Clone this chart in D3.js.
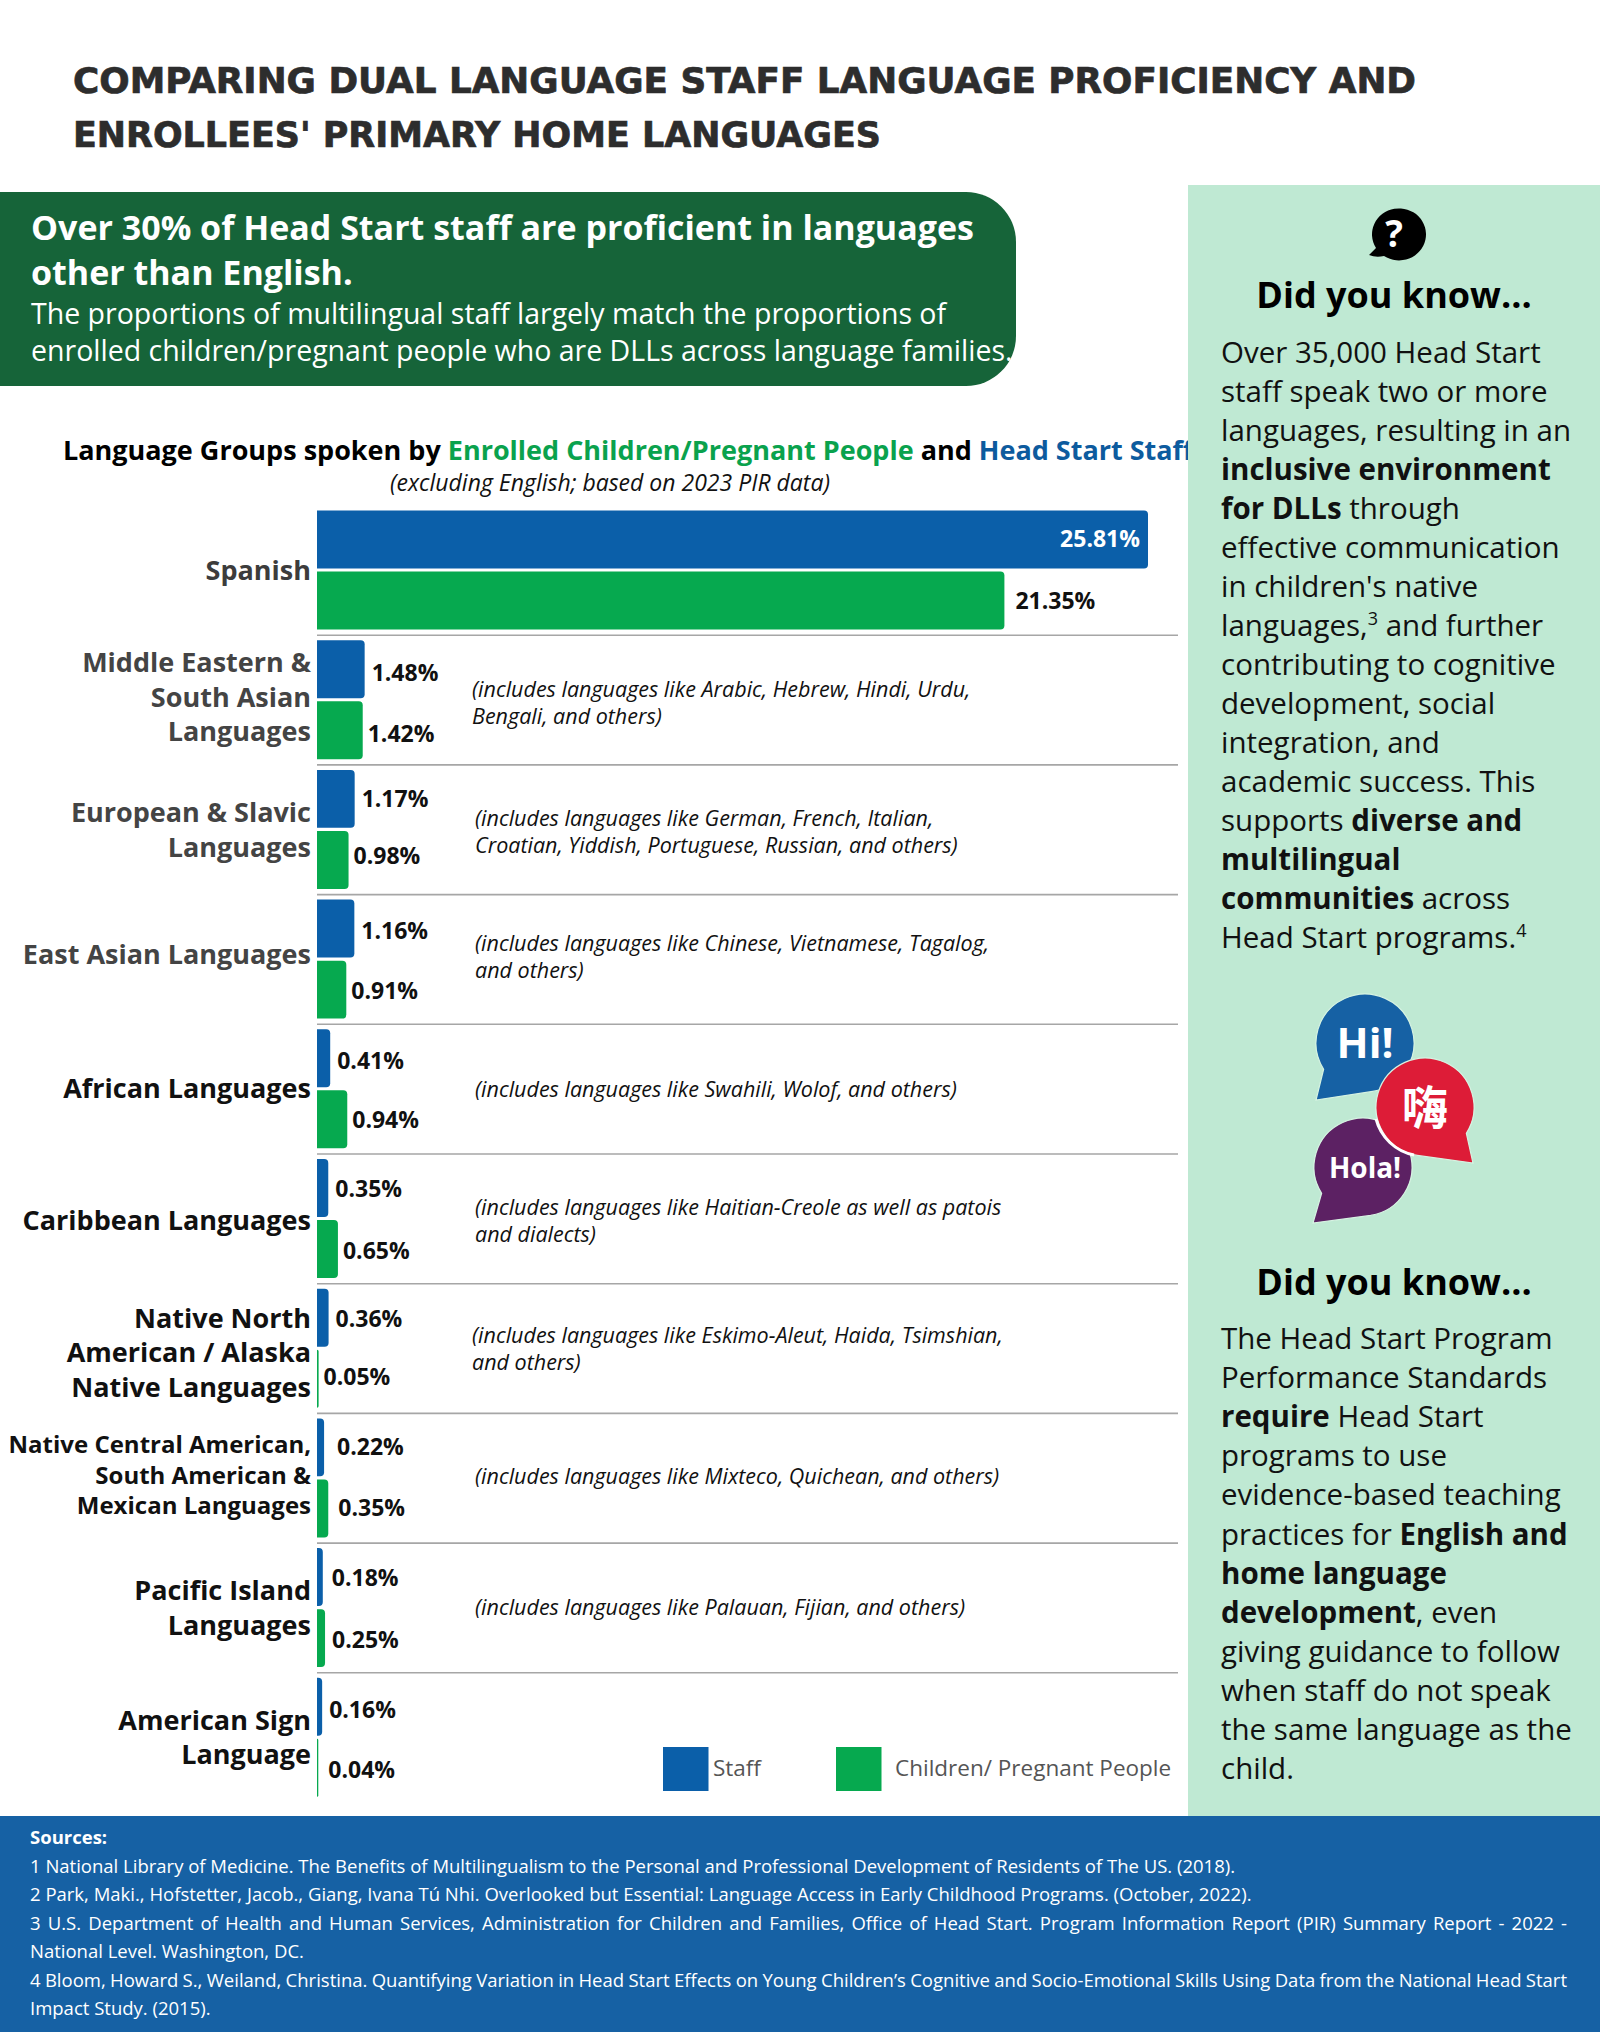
<!DOCTYPE html>
<html><head><meta charset="utf-8">
<script src="https://cdn.jsdelivr.net/npm/d3@7/dist/d3.min.js"></script>
<style>
html,body{margin:0;padding:0;background:#fff}
svg{display:block}
text{font-family:"Open Sans",sans-serif}
</style></head><body>
<svg id="c" width="1600" height="2032" viewBox="0 0 1600 2032"></svg>
<script>
// ---------- data ----------
const categories = ["Spanish","Middle Eastern","European","East Asian","African","Caribbean","Native North","Native Central","Pacific Island","ASL"];
const categoryLines = [
  ["Spanish"],
  ["Middle Eastern &","South Asian","Languages"],
  ["European & Slavic","Languages"],
  ["East Asian Languages"],
  ["African Languages"],
  ["Caribbean Languages"],
  ["Native North","American / Alaska","Native Languages"],
  ["Native Central American,","South American &","Mexican Languages"],
  ["Pacific Island","Languages"],
  ["American Sign","Language"]
];
const staffValues = [25.81,1.48,1.17,1.16,0.41,0.35,0.36,0.22,0.18,0.16];
const childValues = [21.35,1.42,0.98,0.91,0.94,0.65,0.05,0.35,0.25,0.04];
const seriesNames = ["Staff","Children/ Pregnant People"];
const notes = [
  [],
  ["(includes languages like Arabic, Hebrew, Hindi, Urdu,","Bengali, and others)"],
  ["(includes languages like German, French, Italian,","Croatian, Yiddish, Portuguese, Russian, and others)"],
  ["(includes languages like Chinese, Vietnamese, Tagalog,","and others)"],
  ["(includes languages like Swahili, Wolof, and others)"],
  ["(includes languages like Haitian-Creole as well as patois","and dialects)"],
  ["(includes languages like Eskimo-Aleut, Haida, Tsimshian,","and others)"],
  ["(includes languages like Mixteco, Quichean, and others)"],
  ["(includes languages like Palauan, Fijian, and others)"],
  []
];
const titleLines = ["COMPARING DUAL LANGUAGE STAFF LANGUAGE PROFICIENCY AND","ENROLLEES' PRIMARY HOME LANGUAGES"];
const sources = [
 "1 National Library of Medicine. The Benefits of Multilingualism to the Personal and Professional Development of Residents of The US. (2018).",
 "2 Park, Maki., Hofstetter, Jacob., Giang, Ivana Tú Nhi. Overlooked but Essential: Language Access in Early Childhood Programs. (October, 2022).",
 "3 U.S. Department of Health and Human Services, Administration for Children and Families, Office of Head Start. Program Information Report (PIR) Summary Report - 2022 -",
 "National Level. Washington, DC.",
 "4 Bloom, Howard S., Weiland, Christina. Quantifying Variation in Head Start Effects on Young Children’s Cognitive and Socio-Emotional Skills Using Data from the National Head Start",
 "Impact Study. (2015)."
];
const know1 = [
 [["Over 35,000 Head Start"]],[["staff speak two or more"]],[["languages, resulting in an"]],
 [["inclusive environment","b"]],[["for DLLs","b"],[" through"]],[["effective communication"]],
 [["in children's native"]],[["languages,"],["3","s"],[" and further"]],[["contributing to cognitive"]],
 [["development, social"]],[["integration, and"]],[["academic success. This"]],
 [["supports "],["diverse and","b"]],[["multilingual","b"]],[["communities","b"],[" across"]],
 [["Head Start programs."],["4","s"]]
];
const know2 = [
 [["The Head Start Program"]],[["Performance Standards"]],[["require","b"],[" Head Start"]],
 [["programs to use"]],[["evidence-based teaching"]],[["practices for "],["English and","b"]],
 [["home language","b"]],[["development","b"],[", even"]],[["giving guidance to follow"]],
 [["when staff do not speak"]],[["the same language as the"]],[["child."]]
];

// ---------- colours ----------
const BLUE="#0b5fa9", GREEN="#06a94f", DARKGREEN="#166439", PANEL="#bfe9d3", FOOT="#1661a4";

const svg=d3.select("#c");
svg.append("rect").attr("width",1600).attr("height",2032).attr("fill","#fff");

// ---------- title ----------
const titleWidths=[1343,808];
titleLines.forEach((t,i)=>{
  svg.append("text").text(t).attr("x",73).attr("y",93+i*53.5)
    .attr("font-size",36).attr("font-weight",700)
    .style("font-family","'DejaVu Sans',sans-serif")
    .attr("fill","#2d2d2d").attr("stroke","#2d2d2d").attr("stroke-width",0.7)
    .attr("textLength",titleWidths[i]).attr("lengthAdjust","spacingAndGlyphs");
});

// ---------- banner ----------
svg.append("path").attr("d","M0,192H966A50,50 0 0 1 1016,242V336A50,50 0 0 1 966,386H0Z").attr("fill",DARKGREEN);
[["Over 30% of Head Start staff are proficient in languages",240,34,700],
 ["other than English.",285,34,700],
 ["The proportions of multilingual staff largely match the proportions of",324,28.5,400],
 ["enrolled children/pregnant people who are DLLs across language families.",361,28.5,400]]
.forEach(d=>svg.append("text").text(d[0]).attr("x",31).attr("y",d[1]).attr("font-size",d[2]).attr("font-weight",d[3]).attr("fill","#fff"));

// ---------- chart heading ----------
const head=svg.append("text").attr("x",63).attr("y",460).attr("font-size",27).attr("font-weight",700);
head.append("tspan").text("Language Groups spoken by ").attr("fill","#000");
head.append("tspan").text("Enrolled Children/Pregnant People").attr("fill","#0aa24d");
head.append("tspan").text(" and ").attr("fill","#000");
head.append("tspan").text("Head Start Staff").attr("fill","#0d5b9e");
svg.append("text").text("(excluding English; based on 2023 PIR data)").attr("x",610).attr("y",491)
  .attr("text-anchor","middle").attr("font-size",23).attr("font-style","italic").attr("fill","#111");

// ---------- scales ----------
const x=d3.scaleLinear().domain([0,25.81]).range([317,1148]);
const y=d3.scaleBand().domain(categories).range([505.5,1802.5]);
const sub=d3.scaleBand().domain(seriesNames).range([5,124]).paddingInner(0.05);

// separators
const g=svg.append("g");
g.selectAll("line.sep").data(categories.slice(0,-1)).join("line").attr("class","sep")
  .attr("x1",317).attr("x2",1178)
  .attr("y1",d=>y(d)+y.bandwidth()).attr("y2",d=>y(d)+y.bandwidth())
  .attr("stroke","#a6a6a6").attr("stroke-width",1.6);

// bars
const rows=categories.map((c,i)=>({c,i,staff:staffValues[i],child:childValues[i]}));
function roundedBar(x0,x1,top,h){
  const r=Math.min(4,x1-x0);
  return `M${x0},${top}H${x1-r}A${r},${r} 0 0 1 ${x1},${top+r}V${top+h-r}A${r},${r} 0 0 1 ${x1-r},${top+h}H${x0}Z`;
}
g.selectAll("path.staff").data(rows).join("path").attr("class","staff").attr("fill",BLUE)
  .attr("d",d=>roundedBar(x(0),x(d.staff),y(d.c)+sub(seriesNames[0]),sub.bandwidth()));
g.selectAll("path.child").data(rows).join("path").attr("class","child").attr("fill",GREEN)
  .attr("d",d=>roundedBar(x(0),x(d.child),y(d.c)+sub(seriesNames[1]),sub.bandwidth()));

// value labels
const staffNudge=[0,0,0,0,0,0,0,6,2,0];
const childNudge=[6,0,0,0,0,0,0,5,2,5];
const staffDy=[0,4,0,2,3,1,1,0,1,3];
const childDy=[0,4,-4,1,1,2,-2,0,2,2];
g.selectAll("text.vs").data(rows).join("text").attr("class","vs")
  .text(d=>d.staff.toFixed(2)+"%")
  .attr("x",d=>d.i===0?x(d.staff)-8:x(d.staff)+7+staffNudge[d.i])
  .attr("text-anchor",d=>d.i===0?"end":"start")
  .attr("y",d=>y(d.c)+sub(seriesNames[0])+sub.bandwidth()/2+8+staffDy[d.i])
  .attr("font-size",23).attr("font-weight",700).attr("fill",d=>d.i===0?"#fff":"#111");
g.selectAll("text.vc").data(rows).join("text").attr("class","vc")
  .text(d=>d.child.toFixed(2)+"%")
  .attr("x",d=>x(d.child)+5+childNudge[d.i])
  .attr("y",d=>y(d.c)+sub(seriesNames[1])+sub.bandwidth()/2+8+childDy[d.i])
  .attr("font-size",23).attr("font-weight",700).attr("fill","#111");

// category axis
const axis=svg.append("g").attr("transform","translate(317,0)")
  .call(d3.axisLeft(y).tickSize(0).tickPadding(6));
axis.select(".domain").remove();
const catColor=["#3c3c3c","#444","#444","#444","#111","#111","#111","#111","#111","#111"];
const catDy=[0,-3,0,-5,-1,2,4,-3,0,0];
axis.selectAll(".tick text").each(function(d,i){
  const el=d3.select(this).text(null).attr("dy",null)
    .attr("font-weight",700).style("font-family","'Open Sans',sans-serif")
    .attr("font-size",i===7?24:27).attr("fill",catColor[i]);
  const ls=categoryLines[i], lh=i===7?30.5:34.5;
  ls.forEach((t,k)=>el.append("tspan").text(t).attr("x",-6)
    .attr("y",(k-(ls.length-1)/2)*lh+(i===7?8.5:9.5)+catDy[i]));
});

// notes
const noteX=[0,472,475,475,475,475,472,475,475,0];
const noteDy=[0,2,2,-3,0,2,0,-2,-1,0];
notes.forEach((ls,i)=>ls.forEach((t,k)=>{
  svg.append("text").text(t).attr("x",noteX[i])
    .attr("y",y(categories[i])+y.bandwidth()/2+(k-(ls.length-1)/2)*27+8+noteDy[i])
    .attr("font-size",21.5).attr("font-style","italic").attr("fill","#111");
}));

// legend
[[663,BLUE,713,"#555"],[836,GREEN,895,"#555"]].forEach((d,i)=>{
  svg.append("rect").attr("x",d[0]).attr("y",1747).attr("width",45.5).attr("height",44).attr("fill",d[1]);
  svg.append("text").text(seriesNames[i]).attr("x",d[2]).attr("y",1776).attr("font-size",22.5).attr("fill",d[3]);
});

// ---------- right panel ----------
svg.append("rect").attr("x",1188).attr("y",185).attr("width",412).attr("height",1632).attr("fill",PANEL);
// question icon
svg.append("path").attr("d","M1369,255 L1376,248 A27,26 0 1 1 1384,256 Q1376,258 1369,255Z").attr("fill","#000");
svg.append("text").text("?").attr("x",1394).attr("y",247).attr("text-anchor","middle").attr("font-size",37).attr("font-weight",700).attr("fill","#fff");

function heading(yy){
  svg.append("text").text("Did you know...").attr("x",1394).attr("y",yy).attr("text-anchor","middle")
    .attr("font-size",36).attr("font-weight",700).attr("fill","#000");
}
function para(lines,y0,step){
  lines.forEach((ln,i)=>{
    const t=svg.append("text").attr("x",1221).attr("y",y0+i*step).attr("font-size",29.5).attr("fill","#111");
    ln.forEach(s=>{
      const sp=t.append("tspan").text(s[0]);
      if(s[1]==="b") sp.attr("font-weight",700);
      if(s[1]==="s") sp.attr("font-size",18).attr("dy",-11);
      else if(t.selectAll("tspan").size()>1 && ln[ln.indexOf(s)-1][1]==="s") sp.attr("dy",11);
    });
  });
}
heading(308);
para(know1,362.5,39.05);
heading(1295);
para(know2,1349,39.1);

// speech bubbles
function bubble(cx,cy,r,tx,ty,fill,side){
  const a0=side*1, p=(ang)=>[cx+r*Math.cos(ang),cy+r*Math.sin(ang)];
  const s=side<0?p(Math.PI*0.82):p(Math.PI*0.18), e=side<0?p(Math.PI*0.45):p(Math.PI*0.55);
  const sw=side<0?0:1;
  svg.append("path").attr("d",`M${s}L${tx},${ty}L${e}A${r},${r} 0 1 ${side<0?0:1} ${s}Z`)
    .attr("fill",fill).attr("stroke","#d6f3e2").attr("stroke-width",1.2);
}
bubble(1363,1167,49,1313,1223,"#5c2163",-1);
bubble(1365,1043,49,1316,1100,"#1661a4",-1);
bubble(1425,1107,49,1473,1163,"#dd1c37",1);
svg.append("path").attr("d","M1376,1119 A49,49 0 0 0 1414,1155").attr("fill","none").attr("stroke","#fff").attr("stroke-width",3);
svg.append("text").text("Hi!").attr("x",1365).attr("y",1058).attr("text-anchor","middle").attr("font-size",42).attr("font-weight",700).attr("fill","#fff");
svg.append("text").text("嗨").attr("x",1425).attr("y",1124).attr("text-anchor","middle").attr("font-size",46).attr("font-weight",700).style("font-family","'Noto Sans CJK SC'").attr("fill","#fff");
svg.append("text").text("Hola!").attr("x",1365).attr("y",1178).attr("text-anchor","middle").attr("font-size",28).attr("font-weight",700).attr("fill","#fff");

// ---------- footer ----------
svg.append("rect").attr("x",0).attr("y",1816).attr("width",1600).attr("height",216).attr("fill",FOOT);
svg.append("text").text("Sources:").attr("x",30).attr("y",1844).attr("font-size",18.5).attr("font-weight",700).attr("fill","#fff");
const justified=[2,4];
sources.forEach((t,i)=>{
  const el=svg.append("text").text(t).attr("x",30).attr("y",1873+i*28.4).attr("font-size",18.5).attr("fill","#fff");
  if(justified.includes(i)){
    const w=el.node().getComputedTextLength(), n=t.split(" ").length-1;
    el.style("word-spacing",((1567-30-w)/n)+"px");
  }
});
</script>
</body></html>
